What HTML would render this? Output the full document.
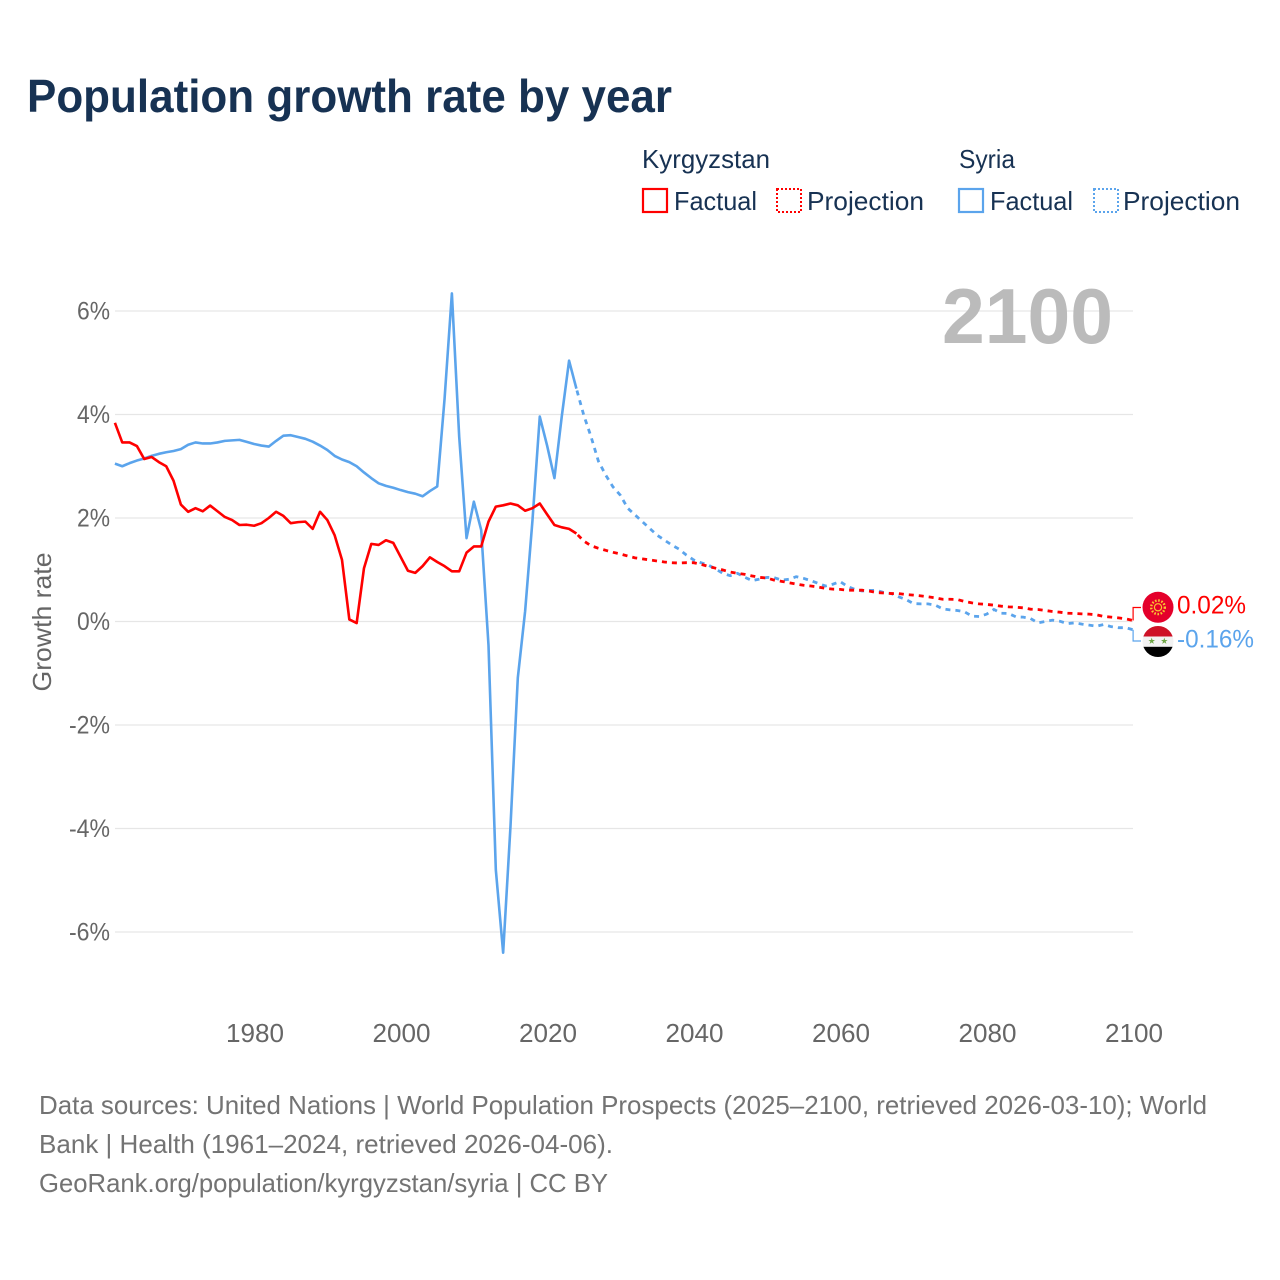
<!DOCTYPE html>
<html lang="en">
<head>
<meta charset="utf-8">
<title>Population growth rate by year</title>
<style>
html,body{margin:0;padding:0;background:#fff;}
svg{display:block;font-family:"Liberation Sans",sans-serif;}
</style>
</head>
<body>
<svg id="chart" width="1280" height="1280" viewBox="0 0 1280 1280" xmlns="http://www.w3.org/2000/svg">
<defs>
<clipPath id="flag-clip-kg"><circle cx="1158" cy="607.3" r="15.5"/></clipPath>
<clipPath id="flag-clip-sy"><circle cx="1158" cy="641.5" r="15.5"/></clipPath>
</defs>
<rect x="0" y="0" width="1280" height="1280" fill="#fff"/>
<text x="27" y="112" font-size="46" font-weight="700" fill="#173253" textLength="645" lengthAdjust="spacingAndGlyphs">Population growth rate by year</text>

<g font-size="26" fill="#173253">
<text x="642" y="168" textLength="128" lengthAdjust="spacingAndGlyphs">Kyrgyzstan</text>
<text x="959" y="168" textLength="56" lengthAdjust="spacingAndGlyphs">Syria</text>
<rect x="643" y="189" width="24" height="23" fill="none" stroke="#f00" stroke-width="2.2"/>
<text x="674" y="210" textLength="83" lengthAdjust="spacingAndGlyphs">Factual</text>
<rect x="777" y="189" width="24" height="23" fill="none" stroke="#f00" stroke-width="2" stroke-dasharray="2 2"/>
<text x="807" y="210" textLength="117" lengthAdjust="spacingAndGlyphs">Projection</text>
<rect x="959" y="189" width="24" height="23" fill="none" stroke="#5ba4ec" stroke-width="2.2"/>
<text x="990" y="210" textLength="83" lengthAdjust="spacingAndGlyphs">Factual</text>
<rect x="1094" y="189" width="24" height="23" fill="none" stroke="#5ba4ec" stroke-width="2" stroke-dasharray="2 2"/>
<text x="1123" y="210" textLength="117" lengthAdjust="spacingAndGlyphs">Projection</text>
</g>

<g id="grid"></g>
<g id="y-axis"></g>
<g id="x-axis"></g>
<text transform="translate(51 622) rotate(-90)" text-anchor="middle" font-size="26" fill="#666" textLength="139" lengthAdjust="spacingAndGlyphs">Growth rate</text>
<text x="942" y="343" font-size="78" font-weight="700" fill="#bbb" textLength="171" lengthAdjust="spacingAndGlyphs">2100</text>
<g id="series"></g>

<g>
<g clip-path="url(#flag-clip-sy)">
<rect x="1142" y="626" width="32" height="10.5" fill="#ce1126"/>
<rect x="1142" y="636.5" width="32" height="10.3" fill="#f2f2f2"/>
<rect x="1142" y="646.8" width="32" height="11" fill="#000"/>
<polygon points="1151.7,637.6 1152.5,640 1155,640 1153,641.5 1153.8,643.9 1151.7,642.4 1149.6,643.9 1150.4,641.5 1148.4,640 1150.9,640" fill="#6da544"/>
<polygon points="1164.3,637.6 1165.1,640 1167.6,640 1165.6,641.5 1166.4,643.9 1164.3,642.4 1162.2,643.9 1163,641.5 1161,640 1163.5,640" fill="#6da544"/>
</g>
</g>
<g>
<circle cx="1158" cy="607.3" r="15.5" fill="#e4002b"/>
<circle cx="1158" cy="607.3" r="6.8" fill="none" stroke="#f8c531" stroke-width="2.4" stroke-dasharray="1.6 1.6"/>
<circle cx="1158" cy="607.3" r="3.6" fill="none" stroke="#f8c531" stroke-width="1.2"/>
</g>
<text x="1177" y="613.5" font-size="25" fill="#f00" textLength="69" lengthAdjust="spacingAndGlyphs">0.02%</text>
<text x="1177" y="647.5" font-size="25" fill="#5ba4ec" textLength="77" lengthAdjust="spacingAndGlyphs">-0.16%</text>

<g font-size="26" fill="#737373">
<text x="39" y="1114" textLength="1168" lengthAdjust="spacingAndGlyphs">Data sources: United Nations | World Population Prospects (2025–2100, retrieved 2026-03-10); World</text>
<text x="39" y="1153" textLength="574" lengthAdjust="spacingAndGlyphs">Bank | Health (1961–2024, retrieved 2026-04-06).</text>
<text x="39" y="1192" textLength="569" lengthAdjust="spacingAndGlyphs">GeoRank.org/population/kyrgyzstan/syria | CC BY</text>
</g>
</svg>
<script>
const yTicks = [6, 4, 2, 0, -2, -4, -6];
const xTicks = [1980, 2000, 2020, 2040, 2060, 2080, 2100];
const factualStartYear = 1961;
const projectionStartYear = 2024;
const kyrgyzstanFactual = [3.84,3.46,3.46,3.39,3.14,3.18,3.08,3.0,2.72,2.26,2.12,2.19,2.13,2.24,2.13,2.02,1.96,1.865,1.87,1.85,1.90,2.0,2.12,2.04,1.90,1.92,1.93,1.79,2.12,1.96,1.665,1.19,0.04,-0.03,1.03,1.50,1.48,1.57,1.52,1.25,0.98,0.94,1.07,1.24,1.15,1.07,0.97,0.97,1.33,1.45,1.45,1.93,2.22,2.245,2.28,2.245,2.14,2.19,2.28,2.07,1.865,1.82,1.79,1.70];
const kyrgyzstanProjection = [1.70,1.555,1.465,1.415,1.375,1.337,1.305,1.266,1.23,1.21,1.19,1.17,1.15,1.136,1.13,1.136,1.136,1.105,1.065,1.03,0.995,0.956,0.93,0.91,0.88,0.853,0.84,0.80,0.776,0.75,0.725,0.70,0.686,0.667,0.64,0.625,0.62,0.605,0.605,0.605,0.586,0.56,0.55,0.54,0.54,0.52,0.51,0.496,0.477,0.457,0.43,0.43,0.425,0.386,0.36,0.34,0.33,0.316,0.296,0.283,0.277,0.264,0.238,0.232,0.213,0.193,0.18,0.16,0.155,0.148,0.142,0.13,0.097,0.084,0.07,0.05,0.02];
const syriaFactual = [3.05,3.0,3.06,3.11,3.15,3.2,3.24,3.27,3.295,3.33,3.415,3.46,3.44,3.44,3.46,3.49,3.5,3.51,3.47,3.43,3.4,3.38,3.49,3.59,3.6,3.565,3.53,3.475,3.4,3.315,3.2,3.13,3.08,3.0,2.88,2.77,2.67,2.62,2.585,2.54,2.5,2.47,2.42,2.52,2.61,4.3,6.34,3.57,1.61,2.315,1.77,-0.46,-4.8,-6.4,-3.96,-1.09,0.2,1.95,3.96,3.4,2.77,3.96,5.04,4.5];
const syriaProjection = [4.5,3.99,3.57,3.1,2.83,2.6,2.44,2.19,2.06,1.93,1.8,1.67,1.575,1.48,1.40,1.285,1.19,1.136,1.09,1.015,0.93,0.885,0.93,0.853,0.79,0.82,0.853,0.847,0.8,0.815,0.866,0.834,0.79,0.737,0.686,0.72,0.77,0.68,0.62,0.59,0.6,0.6,0.56,0.54,0.477,0.425,0.348,0.34,0.34,0.316,0.245,0.225,0.213,0.187,0.103,0.097,0.142,0.232,0.16,0.155,0.09,0.084,0.058,-0.026,0,0.026,0.006,-0.04,-0.026,-0.05,-0.07,-0.09,-0.058,-0.10,-0.12,-0.12,-0.16];

const svgNS = 'http://www.w3.org/2000/svg';
const RED = '#f00';
const BLUE = '#5ba4ec';
const plotLeft = 115;
const plotRight = 1133;

function xScale(year) { return 255 + (year - 1980) * 7.325; }
function seriesX(year) { return xScale(year) - 0.9; }
function yScale(v) { return 621.5 - v * 51.75; }

function makeEl(tag, attrs) {
  const el = document.createElementNS(svgNS, tag);
  for (const k in attrs) el.setAttribute(k, attrs[k]);
  return el;
}
function pathFrom(values, startYear) {
  return values.map(function (v, i) {
    return (i ? 'L' : 'M') + seriesX(startYear + i).toFixed(2) + ' ' + yScale(v).toFixed(2);
  }).join(' ');
}

const grid = document.getElementById('grid');
const yAxis = document.getElementById('y-axis');
yTicks.forEach(function (t) {
  const line = makeEl('line', {x1: plotLeft, x2: plotRight, y1: yScale(t), y2: yScale(t), stroke: '#e6e6e6', 'stroke-width': 1.3});
  
  
  grid.appendChild(line);
  const label = t + '%';
  const text = makeEl('text', {x: 110, y: yScale(t) + 8.5, 'text-anchor': 'end', 'font-size': 25, fill: '#666', textLength: t < 0 ? 41 : 33, lengthAdjust: 'spacingAndGlyphs'});
  
  
  text.textContent = label;
  yAxis.appendChild(text);
});

const xAxis = document.getElementById('x-axis');
xTicks.forEach(function (t) {
  const text = makeEl('text', {x: xScale(t), y: 1042, 'text-anchor': 'middle', 'font-size': 25.5, fill: '#666', textLength: 58, lengthAdjust: 'spacingAndGlyphs'});
  
  
  text.textContent = String(t);
  xAxis.appendChild(text);
});

const seriesGroup = document.getElementById('series');

const syriaFactualLine = makeEl('path', {d: pathFrom(syriaFactual, factualStartYear), fill: 'none', stroke: BLUE, 'stroke-width': 2.6, 'stroke-linejoin': 'round'});


seriesGroup.appendChild(syriaFactualLine);

const syriaProjectionLine = makeEl('path', {d: pathFrom(syriaProjection, projectionStartYear), fill: 'none', stroke: BLUE, 'stroke-width': 2.8, 'stroke-dasharray': '5 5', 'stroke-dashoffset': -2});


seriesGroup.appendChild(syriaProjectionLine);

const kgFactualLine = makeEl('path', {d: pathFrom(kyrgyzstanFactual, factualStartYear), fill: 'none', stroke: RED, 'stroke-width': 2.6, 'stroke-linejoin': 'round'});


seriesGroup.appendChild(kgFactualLine);

const kgProjectionLine = makeEl('path', {d: pathFrom(kyrgyzstanProjection, projectionStartYear), fill: 'none', stroke: RED, 'stroke-width': 2.8, 'stroke-dasharray': '5 5', 'stroke-dashoffset': -2});


seriesGroup.appendChild(kgProjectionLine);

const lastYear = xTicks[xTicks.length - 1];
const endX = seriesX(lastYear);
const kgEnd = yScale(kyrgyzstanProjection[kyrgyzstanProjection.length - 1]);
const syEnd = yScale(syriaProjection[syriaProjection.length - 1]);

const kgConnector = makeEl('path', {d: 'M' + endX + ' ' + kgEnd + ' V607.5 H1141', fill: 'none', stroke: RED, 'stroke-width': 1.2});


seriesGroup.appendChild(kgConnector);

const syConnector = makeEl('path', {d: 'M' + endX + ' ' + syEnd + ' V641 H1141', fill: 'none', stroke: BLUE, 'stroke-width': 1.2});


seriesGroup.appendChild(syConnector);
</script>
</body>
</html>
